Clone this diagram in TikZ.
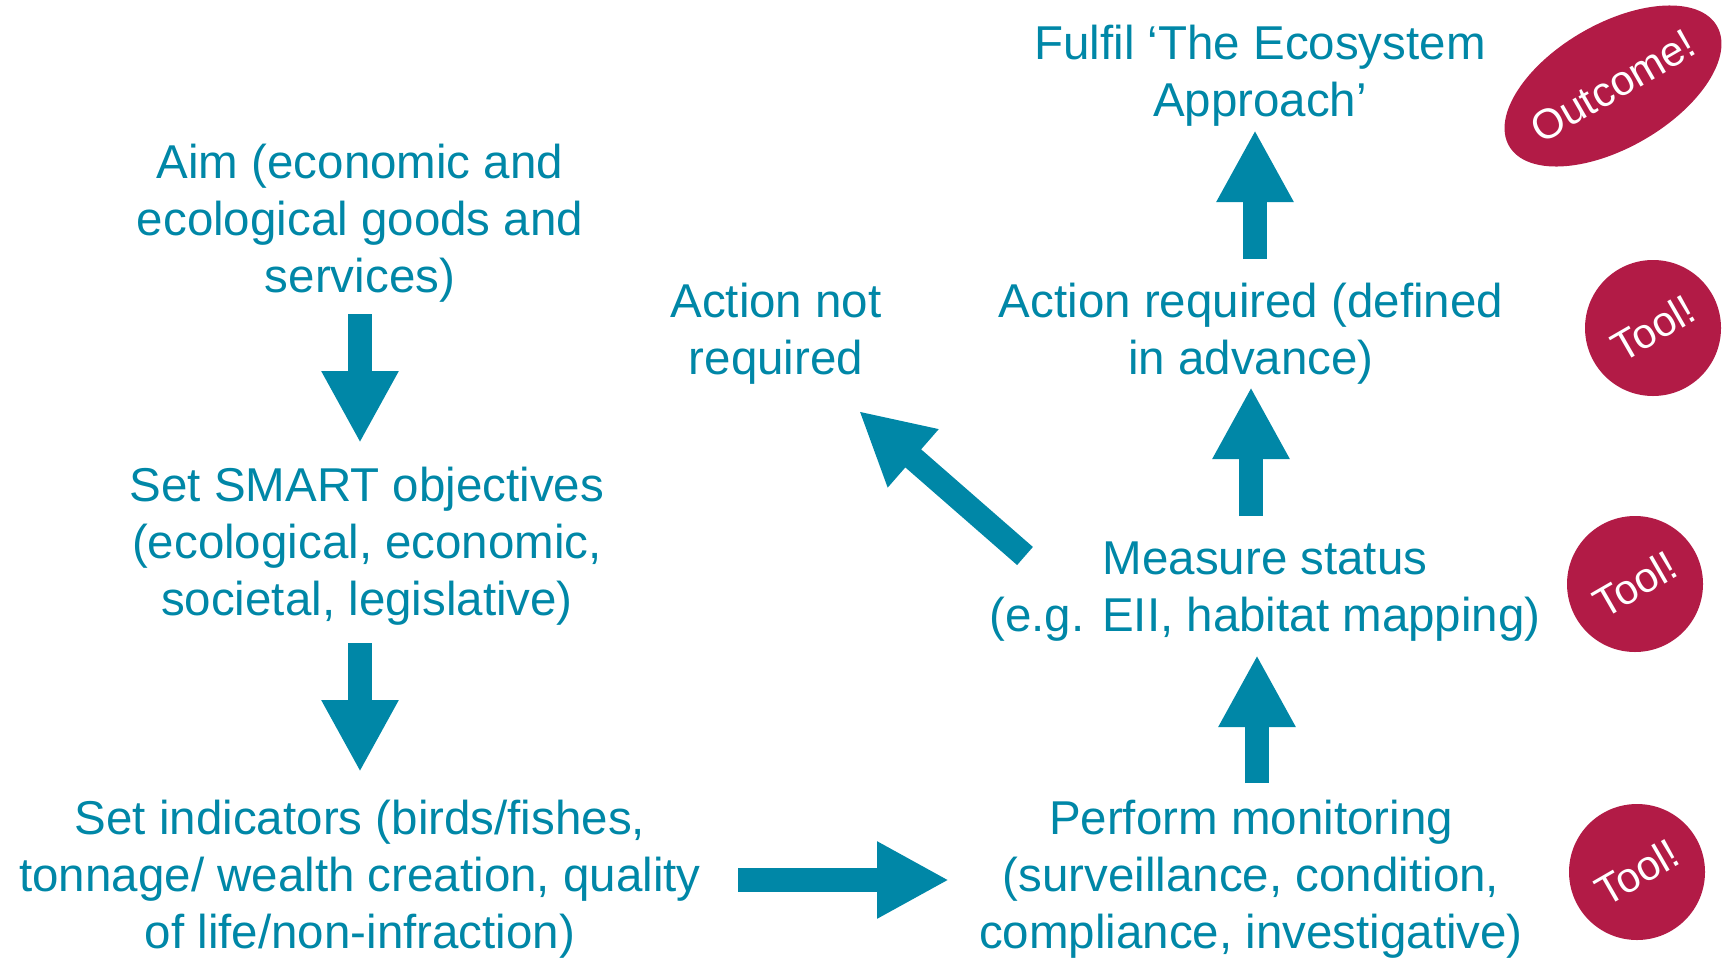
\documentclass[tikz,border=0pt]{standalone}
\usepackage{fontspec}
\setmainfont{Liberation Sans}
\usetikzlibrary{arrows.meta,shapes.geometric}
\definecolor{teal}{RGB}{0,135,167}
\definecolor{badge}{RGB}{178,27,70}
\begin{document}
\begin{tikzpicture}[x=1pt,y=-1pt,
  lbl/.style={text=teal,align=center,font=\fontsize{47.5}{57}\selectfont,inner sep=0pt},
  fat/.style={draw=teal,line width=24pt,-{Triangle[length=72pt,width=72pt]}},
  badgetxt/.style={text=white,font=\fontsize{42}{46}\selectfont,rotate=30,inner sep=0pt}]
\useasboundingbox (0,0) rectangle (1724,959);
\node[lbl] (aim) at (360,223) {Aim (economic and\\ecological goods and\\services)};
\node[lbl] (smart) at (367,546) {Set SMART objectives\\(ecological, economic,\\societal, legislative)};
\node[lbl] (ind) at (360,879) {Set indicators (birds/fishes,\\tonnage/ wealth creation, quality\\of life/non-infraction)};
\node[lbl] (mon) at (1251,879) {Perform monitoring\\(surveillance, condition,\\compliance, investigative)};
\node[lbl] (meas) at (1265,592) {Measure status\\(e.g. EII, habitat mapping)};
\node[lbl] (req) at (1251,334) {Action required (defined\\in advance)};
\node[lbl] (ful) at (1260,76) {Fulfil ‘The Ecosystem\\Approach’};
\node[lbl] (notreq) at (776,334) {Action not\\required};
\coordinate (a1s) at (360,314); \coordinate (a1e) at (360,443);
\coordinate (a2s) at (360,643); \coordinate (a2e) at (360,772);
\coordinate (a3s) at (738,880); \coordinate (a3e) at (949,880);
\coordinate (a4s) at (1257,783); \coordinate (a4e) at (1257,655);
\coordinate (a5s) at (1251,516); \coordinate (a5e) at (1251,387);
\coordinate (a6s) at (1255,259); \coordinate (a6e) at (1255,130);
\coordinate (a7s) at (1025,556); \coordinate (a7e) at (859,411);
\foreach \i in {1,...,7} {\draw[fat] (a\i s) -- (a\i e);}
\fill[badge,rotate around={30:(1613,86)}] (1613,86) ellipse [x radius=120,y radius=62];
\node[badgetxt] (out) at (1613,86) {Outcome!};
\fill[badge] (1653,328) circle [radius=68];
\node[badgetxt] (t1) at (1653,328) {Tool!};
\fill[badge] (1635,584) circle [radius=68];
\node[badgetxt] (t2) at (1635,584) {Tool!};
\fill[badge] (1637,872) circle [radius=68];
\node[badgetxt] (t3) at (1637,872) {Tool!};
\end{tikzpicture}
\end{document}
